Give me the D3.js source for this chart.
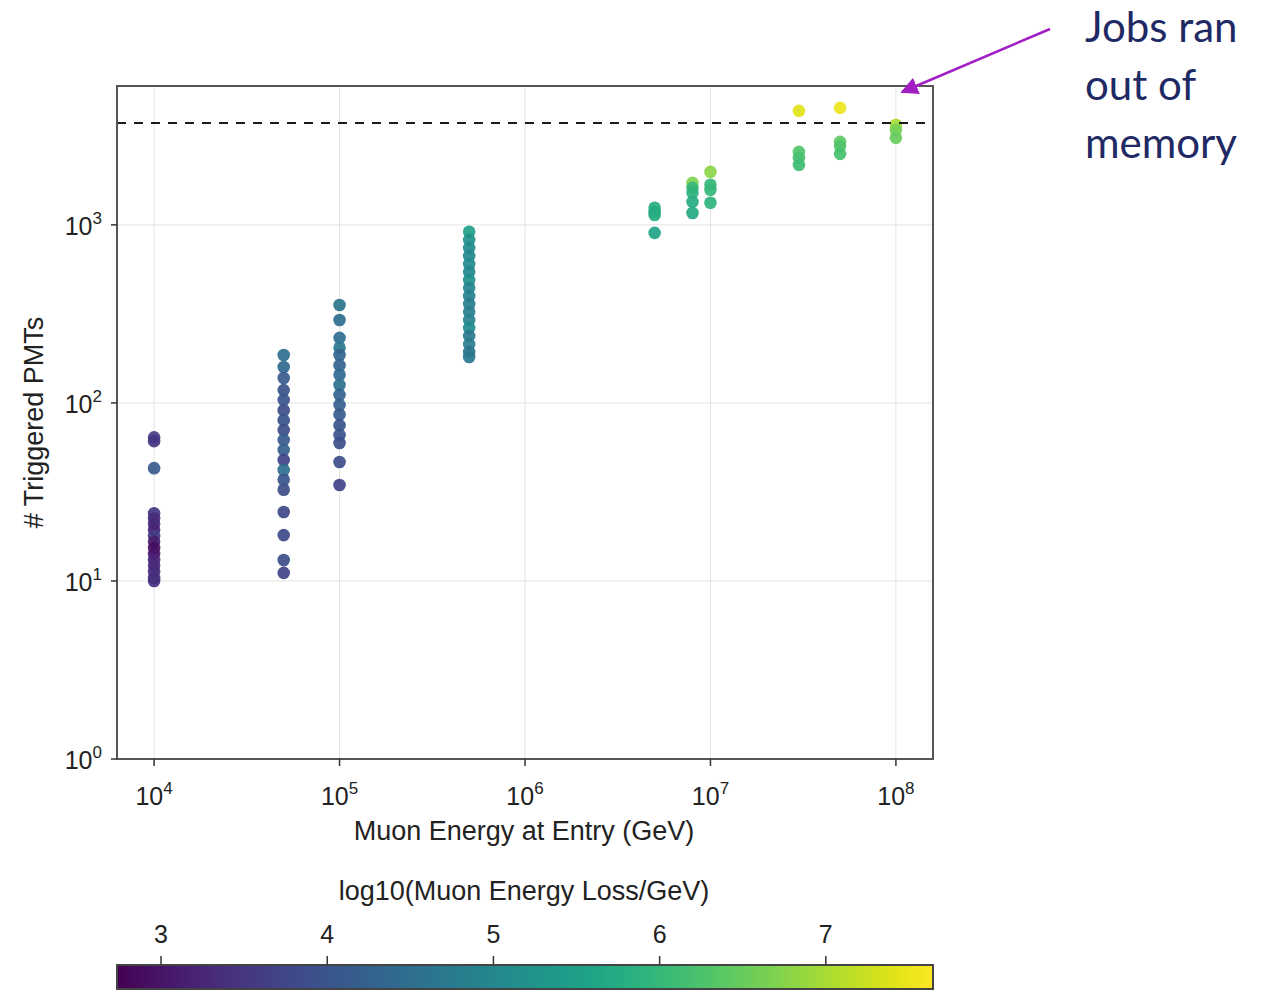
<!DOCTYPE html>
<html>
<head>
<meta charset="utf-8">
<script src="https://cdn.jsdelivr.net/npm/d3@7"></script>
<style>
  html, body { margin: 0; padding: 0; background: #fff; }
  svg { display: block; font-family: "Liberation Sans", Arial, sans-serif; }
</style>
</head>
<body>
<svg id="chart" width="1275" height="991"></svg>
<script>
// muon energy at entry (GeV) for each batch of events
const energies = [1e4, 5e4, 1e5, 5e5, 5e6, 8e6, 1e7, 3e7, 5e7, 1e8];
// number of triggered PMTs, one list per energy
const pmts = [
  [64, 61, 43, 24, 22.5, 21, 19.4, 17.9, 16.6, 15.3, 14.2, 13.1, 12.2, 11.3, 10.4, 10],
  [186, 159, 138, 118, 104, 91, 80, 70.5, 62, 54.5, 47.8, 42, 37, 32.5, 24.4, 18.1, 13.1, 11.1],
  [355, 292, 232, 204, 186, 163, 144, 126, 111, 97.5, 86, 75, 66, 59.6, 46.6, 34.6],
  [914, 824, 743, 670, 604, 545, 491, 443, 399, 360, 325, 292, 264, 238, 214, 193, 181],
  [1247, 1180, 1137, 902],
  [1722, 1614, 1514, 1347, 1167],
  [1985, 1680, 1573, 1330],
  [4370, 2570, 2378, 2173],
  [4540, 2925, 2770, 2505],
  [3650, 3420, 3085]
];
// log10(muon energy loss / GeV), same layout as pmts
const losses = [
  [3.6, 3.5, 4.1, 3.5, 3.4, 3.3, 3.2, 3.6, 3.1, 2.9, 3.0, 3.2, 3.3, 3.3, 3.4, 3.4],
  [4.5, 4.4, 4.1, 4.0, 4.0, 3.9, 4.0, 3.9, 4.1, 4.2, 3.7, 4.5, 4.0, 3.9, 3.8, 3.8, 3.9, 3.7],
  [4.6, 4.5, 4.5, 4.7, 4.3, 4.3, 4.4, 4.6, 4.3, 4.2, 4.1, 4.0, 4.0, 3.9, 3.9, 3.7],
  [5.5, 5.2, 5.1, 5.0, 5.1, 5.0, 5.2, 5.0, 4.9, 4.8, 4.8, 4.9, 5.1, 4.7, 4.8, 4.6, 4.7],
  [5.8, 5.7, 5.8, 5.6],
  [6.7, 6.0, 5.9, 5.8, 5.7],
  [6.8, 6.0, 6.0, 5.9],
  [7.4, 6.3, 6.2, 6.1],
  [7.5, 6.4, 6.3, 6.2],
  [7.0, 6.6, 6.5]
];
const xTicks = [1e4, 1e5, 1e6, 1e7, 1e8];
const yTicks = [1, 10, 100, 1000];
const colorTicks = [3, 4, 5, 6, 7];
const lossRange = [2.735, 7.645];
const memoryLimit = 3740;

const svg = d3.select("#chart");
const plotL = 117, plotR = 933, plotT = 86, plotB = 759;

const xScale = d3.scaleLog().domain([Math.pow(10, 3.8), Math.pow(10, 8.2)]).range([plotL, plotR]);
const yScale = d3.scaleLog().domain([1, Math.pow(10, 3.78)]).range([plotB, plotT]);
const color = d3.scaleSequential(d3.interpolateViridis).domain(lossRange);

const points = [];
energies.forEach((e, i) => {
  pmts[i].forEach((p, j) => points.push({ e: e, p: p, loss: losses[i][j] }));
});

// grid
const grid = svg.append("g");
grid.selectAll(".gx").data(xTicks).join("line")
  .attr("x1", d => xScale(d)).attr("x2", d => xScale(d))
  .attr("y1", plotT).attr("y2", plotB)
  .attr("stroke", "#e3e3e3").attr("stroke-width", 1);
grid.selectAll(".gy").data(yTicks).join("line")
  .attr("x1", plotL).attr("x2", plotR)
  .attr("y1", d => yScale(d)).attr("y2", d => yScale(d))
  .attr("stroke", "#e3e3e3").attr("stroke-width", 1);

// points
svg.append("g").selectAll("circle").data(points).join("circle")
  .attr("cx", d => xScale(d.e))
  .attr("cy", d => yScale(d.p))
  .attr("r", 6.3)
  .attr("fill", d => color(d.loss))
  .attr("fill-opacity", 0.92);

// memory limit line
svg.append("line")
  .attr("x1", plotL).attr("x2", plotR)
  .attr("y1", yScale(memoryLimit)).attr("y2", yScale(memoryLimit))
  .attr("stroke", "#1a1a1a").attr("stroke-width", 2)
  .attr("stroke-dasharray", "9,8");

// frame
svg.append("rect")
  .attr("x", plotL).attr("y", plotT)
  .attr("width", plotR - plotL).attr("height", plotB - plotT)
  .attr("fill", "none").attr("stroke", "#555").attr("stroke-width", 2);

function powLabel(sel, d) {
  const exp = Math.round(Math.log10(d));
  sel.append("tspan").text("10");
  sel.append("tspan").attr("dy", -11).attr("font-size", "17px").text(exp);
}

// x axis
const xAxis = svg.append("g");
xAxis.selectAll("line").data(xTicks).join("line")
  .attr("x1", d => xScale(d)).attr("x2", d => xScale(d))
  .attr("y1", plotB).attr("y2", plotB + 7)
  .attr("stroke", "#333").attr("stroke-width", 1.5);
xAxis.selectAll("text").data(xTicks).join("text")
  .attr("x", d => xScale(d)).attr("y", 805)
  .attr("text-anchor", "middle")
  .attr("font-size", "25px").attr("fill", "#222")
  .each(function (d) { powLabel(d3.select(this), d); });
svg.append("text")
  .attr("x", 524).attr("y", 840)
  .attr("text-anchor", "middle")
  .attr("font-size", "27px").attr("fill", "#222")
  .text("Muon Energy at Entry (GeV)");

// y axis
const yAxis = svg.append("g");
yAxis.selectAll("line").data(yTicks).join("line")
  .attr("x1", plotL - 6).attr("x2", plotL)
  .attr("y1", d => yScale(d)).attr("y2", d => yScale(d))
  .attr("stroke", "#333").attr("stroke-width", 1.5);
yAxis.selectAll("text").data(yTicks).join("text")
  .attr("x", 102).attr("y", d => yScale(d) + 10)
  .attr("text-anchor", "end")
  .attr("font-size", "25px").attr("fill", "#222")
  .each(function (d) { powLabel(d3.select(this), d); });
svg.append("text")
  .attr("transform", `translate(43, ${(plotT + plotB) / 2}) rotate(-90)`)
  .attr("text-anchor", "middle")
  .attr("font-size", "27px").attr("fill", "#222")
  .text("# Triggered PMTs");

// colorbar
const cbTop = 965, cbH = 24;
const cScale = d3.scaleLinear().domain(lossRange).range([plotL, plotR]);
const grad = svg.append("defs").append("linearGradient").attr("id", "viridis");
d3.range(0, 1.0001, 0.05).forEach(t => {
  grad.append("stop").attr("offset", t).attr("stop-color", d3.interpolateViridis(t));
});
svg.append("rect")
  .attr("x", plotL).attr("y", cbTop)
  .attr("width", plotR - plotL).attr("height", cbH)
  .attr("fill", "url(#viridis)")
  .attr("stroke", "#444").attr("stroke-width", 2);
svg.append("g").selectAll("line").data(colorTicks).join("line")
  .attr("x1", d => cScale(d)).attr("x2", d => cScale(d))
  .attr("y1", cbTop - 9).attr("y2", cbTop)
  .attr("stroke", "#333").attr("stroke-width", 1.5);
svg.append("g").selectAll("text").data(colorTicks).join("text")
  .attr("x", d => cScale(d)).attr("y", 943)
  .attr("text-anchor", "middle")
  .attr("font-size", "25px").attr("fill", "#222")
  .text(d => d);
svg.append("text")
  .attr("x", 524).attr("y", 900)
  .attr("text-anchor", "middle")
  .attr("font-size", "27px").attr("fill", "#222")
  .text("log10(Muon Energy Loss/GeV)");

// annotation
const arrowColor = "#a21fc4";
svg.append("defs").append("marker")
  .attr("id", "head").attr("viewBox", "0 0 10 10")
  .attr("refX", 9).attr("refY", 5)
  .attr("markerWidth", 7).attr("markerHeight", 7)
  .attr("orient", "auto")
  .append("path").attr("d", "M0,0 L10,5 L0,10 Z").attr("fill", arrowColor);
svg.append("line")
  .attr("x1", 1050).attr("y1", 29)
  .attr("x2", 902).attr("y2", 92)
  .attr("stroke", arrowColor).attr("stroke-width", 2.5)
  .attr("marker-end", "url(#head)");
const note = svg.append("text")
  .attr("font-family", "Lato, 'Open Sans', sans-serif")
  .attr("font-size", "42px").attr("fill", "#1f2a64");
["Jobs ran", "out of", "memory"].forEach((s, i) => {
  note.append("tspan").attr("x", 1085).attr("y", 42 + i * 58).text(s);
});
</script>
</body>
</html>
